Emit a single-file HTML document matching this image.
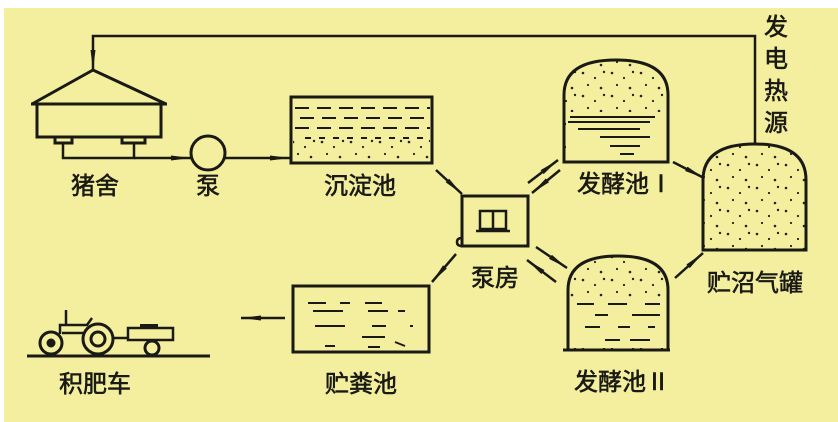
<!DOCTYPE html>
<html><head><meta charset="utf-8"><style>
html,body{margin:0;padding:0;background:#fff;}
svg{display:block}
text{font-family:"Liberation Sans","Noto Sans CJK SC",sans-serif;fill:#1a1a14;font-size:24px;stroke:#1a1a14;stroke-width:0.6px}
</style></head><body>
<svg width="838" height="422" viewBox="0 0 838 422" xmlns="http://www.w3.org/2000/svg">
<defs>
<marker id="a" viewBox="0 0 20 8" refX="20" refY="4" markerWidth="20" markerHeight="8" markerUnits="userSpaceOnUse" orient="auto"><path d="M0,1.5 L20,4 L0,6.5 Z" fill="#1a1a14"/></marker>
<pattern id="dots" width="29" height="23" patternUnits="userSpaceOnUse"><circle cx="3" cy="4" r="1.3" fill="#222"/><circle cx="15" cy="9" r="1.1" fill="#222"/><circle cx="24" cy="3" r="1.2" fill="#222"/><circle cx="8" cy="16" r="1.1" fill="#222"/><circle cx="21" cy="19" r="1.3" fill="#222"/></pattern>
</defs>
<rect x="4" y="8" width="834" height="414" fill="#f4ef9f"/>
<g stroke="#1a1a14" stroke-width="3" fill="none">
<polyline points="755,145 755,36 93,36 93,70" stroke-width="2.5" marker-end="url(#a)"/>
<polyline points="32,104 93,70 166,104"/>
<line x1="31" y1="104" x2="167" y2="104"/>
<polyline points="37,104 37,137 161,137 161,104"/>
<polyline points="55,137 55,143 72,143 72,137"/>
<polyline points="122,137 122,143 145,143 145,137"/>
<polyline points="63,143 63,158 134,158 134,143" stroke-width="2.5"/>
<line x1="134" y1="158" x2="191" y2="158" stroke-width="2.5" marker-end="url(#a)"/>
<circle cx="208" cy="153" r="17"/>
<line x1="225" y1="158" x2="290" y2="158" stroke-width="2.5" marker-end="url(#a)"/>
<rect x="291" y="97" width="141" height="66"/>
</g>
<rect x="293" y="139" width="137" height="22" fill="url(#dots)"/>
<g stroke="#1a1a14" stroke-width="2" stroke-dasharray="14,8">
<line x1="295" y1="108" x2="430" y2="108"/>
<line x1="300" y1="118" x2="430" y2="118"/>
<line x1="295" y1="128" x2="430" y2="128"/>
<line x1="305" y1="138" x2="430" y2="138" stroke-dasharray="6,8"/>
</g>
<text x="95" y="194" text-anchor="middle">猪舍</text>
<text x="208" y="194" text-anchor="middle">泵</text>
<text x="360" y="194" text-anchor="middle">沉淀池</text>
<g stroke="#1a1a14" stroke-width="3" fill="none">
<rect x="462" y="196" width="66" height="50"/>
<rect x="480" y="211" width="26" height="18" stroke-width="2.5"/>
<line x1="493" y1="211" x2="493" y2="229" stroke-width="2.5"/>
<line x1="476" y1="231" x2="510" y2="231" stroke-width="2.5"/>
<path d="M462,238 q-5,0 -5,4 q0,4 5,4" stroke-width="2.5"/>
<g stroke-width="2.5">
<line x1="436" y1="170" x2="462" y2="194" marker-end="url(#a)"/>
<line x1="528" y1="183" x2="558" y2="160" marker-end="url(#a)"/>
<line x1="560" y1="170" x2="532" y2="193" marker-end="url(#a)"/>
<line x1="673" y1="162" x2="704" y2="178" marker-end="url(#a)"/>
<line x1="536" y1="247" x2="567" y2="268" marker-end="url(#a)"/>
<line x1="556" y1="282" x2="527" y2="260" marker-end="url(#a)"/>
<line x1="675" y1="278" x2="703" y2="253" marker-end="url(#a)"/>
<line x1="456" y1="254" x2="432" y2="282" marker-end="url(#a)"/>
<line x1="285" y1="318" x2="241" y2="318" marker-end="url(#a)"/>
</g>
<path d="M564,162 L564,95 Q564,60 616,60 Q668,60 668,95 L668,162 Z" fill="url(#dots)"/>
<rect x="566" y="112" width="100" height="48" fill="#f4ef9f" stroke="none"/>
<line x1="564" y1="112" x2="564" y2="162"/><line x1="668" y1="112" x2="668" y2="162"/>
<line x1="563" y1="162" x2="669" y2="162"/>
<g stroke-width="2"><line x1="570" y1="117" x2="655" y2="117"/><line x1="568" y1="122" x2="650" y2="122"/><line x1="578" y1="129" x2="640" y2="129"/><line x1="600" y1="137" x2="650" y2="137"/><line x1="610" y1="146" x2="640" y2="146"/><line x1="620" y1="154" x2="634" y2="154"/></g>
<path d="M703,250 L703,180 Q703,144 755,144 Q806,144 806,180 L806,250 Z" fill="url(#dots)"/>
<path d="M568,350 L568,290 Q568,256 618,256 Q668,256 668,290 L668,350" fill="url(#dots)"/>
<rect x="570" y="300" width="96" height="48" fill="#f4ef9f" stroke="none"/>
<line x1="568" y1="298" x2="568" y2="350"/><line x1="668" y1="298" x2="668" y2="350"/>
<line x1="563" y1="350" x2="670" y2="350"/>
<g stroke-width="2"><line x1="577" y1="304" x2="594" y2="304"/><line x1="608" y1="304" x2="627" y2="304"/><line x1="645" y1="304" x2="660" y2="304"/><line x1="595" y1="315" x2="608" y2="315"/><line x1="632" y1="315" x2="660" y2="315"/><line x1="585" y1="327" x2="600" y2="327"/><line x1="618" y1="327" x2="630" y2="327"/><line x1="648" y1="327" x2="655" y2="327"/><line x1="605" y1="340" x2="620" y2="340"/><line x1="630" y1="340" x2="650" y2="340"/></g>
<rect x="293" y="286" width="136" height="66"/>
<g stroke-width="2"><line x1="308" y1="303" x2="326" y2="303"/><line x1="340" y1="303" x2="350" y2="303"/><line x1="365" y1="303" x2="382" y2="303"/><line x1="313" y1="311" x2="343" y2="311"/><line x1="368" y1="311" x2="388" y2="311"/><line x1="398" y1="311" x2="405" y2="311"/><line x1="315" y1="326" x2="345" y2="326"/><line x1="372" y1="326" x2="386" y2="326"/><line x1="410" y1="326" x2="413" y2="326"/><line x1="362" y1="337" x2="385" y2="337"/><line x1="325" y1="346" x2="335" y2="346"/><line x1="368" y1="347" x2="380" y2="347"/><line x1="395" y1="342" x2="405" y2="346"/></g>
<line x1="27" y1="356" x2="210" y2="356"/>
<circle cx="51" cy="343" r="11"/><circle cx="51" cy="343" r="3" fill="#1a1a14"/>
<circle cx="98" cy="339" r="15"/><circle cx="98" cy="339" r="7"/>
<circle cx="152" cy="348" r="7"/>
<path d="M60,334 L60,325 L87,325 L92,318" stroke-width="2.5"/>
<line x1="66" y1="325" x2="66" y2="310" stroke-width="2.5"/>
<path d="M62,333 L84,333" stroke-width="2.5"/>
<rect x="128" y="328" width="45" height="12" stroke-width="2.5"/>
<line x1="113" y1="338" x2="128" y2="338" stroke-width="2.5"/>
<rect x="140" y="324" width="18" height="4" fill="#1a1a14" stroke="none"/>
</g>
<text x="95" y="392" text-anchor="middle">积肥车</text>
<text x="361" y="392" text-anchor="middle">贮粪池</text>
<text x="495" y="286" text-anchor="middle">泵房</text>
<text x="625" y="192" text-anchor="middle">发酵池Ⅰ</text>
<text x="622" y="390" text-anchor="middle">发酵池Ⅱ</text>
<text x="755" y="291" text-anchor="middle">贮沼气罐</text>
<text x="776" y="35" text-anchor="middle">发</text>
<text x="776" y="67" text-anchor="middle">电</text>
<text x="776" y="99" text-anchor="middle">热</text>
<text x="776" y="131" text-anchor="middle">源</text>
</svg>
</body></html>
